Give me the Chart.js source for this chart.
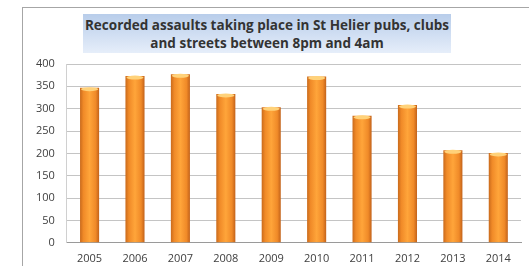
<!DOCTYPE html>
<html>
<head>
<meta charset="utf-8">
<script src="https://cdn.jsdelivr.net/npm/chart.js@4"></script>
<style>
  html, body { margin: 0; padding: 0; background: #fff; }
  #wrap { position: relative; width: 529px; height: 266px; overflow: hidden; }
  #frame { position: absolute; left: 22px; top: 7px; width: 520px; height: 270px; border: 1px solid #a6a6a6; box-sizing: border-box; }
  #title {
    position: absolute; left: 83px; top: 14px; width: 368px; height: 39px;
    background: linear-gradient(to bottom, #b8cdea, #e6eefa);
    font: bold 13.5px "Open Sans", sans-serif; color: #333;
    text-align: center; line-height: 18px; padding-top: 2px; box-sizing: border-box;
  }
  canvas { position: absolute; left: 0; top: 0; }
</style>
</head>
<body>
<div id="wrap">
  <div id="frame"></div>
  <canvas id="chart" width="529" height="266"></canvas>
  <div id="title">Recorded assaults taking place in St Helier pubs, clubs<br>and streets between 8pm and 4am</div>
</div>
<script>
/* ── Assaults bar chart ── */

const years = ['2005','2006','2007','2008','2009','2010','2011','2012','2013','2014'];
const assaults = [347, 373, 377, 333, 303, 372, 284, 308, 207, 201];
const yTicks = [0, 50, 100, 150, 200, 250, 300, 350, 400];

const BAR_PCT = 0.42;

// cylinder look: darker edges, bright middle
function barFill(ctx) {
  const chart = ctx.chart;
  const xs = chart.scales.x;
  if (!chart.chartArea || !xs) return '#f7952e';
  const cx = xs.getPixelForValue(ctx.dataIndex);
  const w = (chart.chartArea.width / years.length) * BAR_PCT;
  const g = chart.ctx.createLinearGradient(cx - w / 2, 0, cx + w / 2, 0);
  g.addColorStop(0, '#c96a1c');
  g.addColorStop(0.18, '#f08a28');
  g.addColorStop(0.5, '#ffa53a');
  g.addColorStop(0.82, '#f08a28');
  g.addColorStop(1, '#c2621a');
  return g;
}

// light top cap on each bar
const capPlugin = {
  id: 'caps',
  afterDatasetsDraw(chart) {
    const c = chart.ctx;
    chart.getDatasetMeta(0).data.forEach(bar => {
      const w = bar.width;
      c.save();
      c.fillStyle = '#ffd27a';
      c.beginPath();
      c.ellipse(bar.x, bar.y + 1.5, w / 2 - 1, 2, 0, 0, Math.PI * 2);
      c.fill();
      c.restore();
    });
  }
};

new Chart(document.getElementById('chart').getContext('2d'), {
  type: 'bar',
  data: {
    labels: years,
    datasets: [{
      data: assaults,
      backgroundColor: barFill,
      borderWidth: 0,
      barPercentage: BAR_PCT,
      categoryPercentage: 1
    }]
  },
  options: {
    responsive: false,
    animation: false,
    layout: { padding: { top: 64, left: 24, right: 8, bottom: 0 } },
    plugins: { legend: { display: false }, tooltip: { enabled: false } },
    scales: {
      x: {
        grid: { display: false },
        border: { color: '#9a9a9a' },
        ticks: { color: '#404040', font: { family: 'Open Sans', size: 11 }, padding: 1 }
      },
      y: {
        min: 0, max: 400,
        afterBuildTicks: axis => { axis.ticks = yTicks.map(v => ({ value: v })); },
        grid: { color: '#c4c4c4', drawTicks: false },
        border: { color: '#d0d0d0' },
        ticks: { color: '#404040', font: { family: 'Open Sans', size: 11 }, padding: 12 }
      }
    }
  },
  plugins: [capPlugin]
});
</script>
</body>
</html>
